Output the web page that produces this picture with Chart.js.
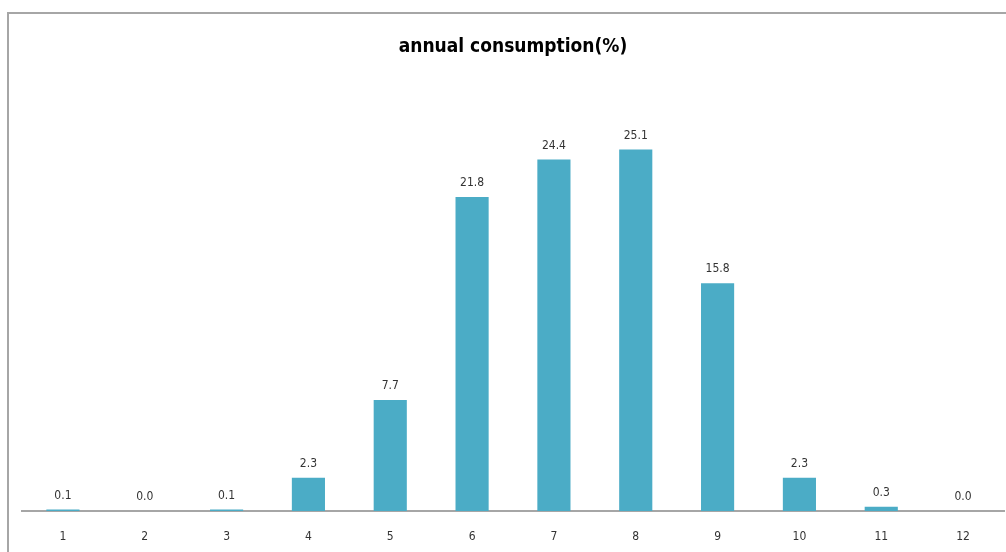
<!DOCTYPE html>
<html>
<head>
<meta charset="utf-8">
<script src="https://cdn.jsdelivr.net/npm/chart.js@4/dist/chart.umd.min.js"></script>
<style>
  html, body { margin: 0; padding: 0; background: #fff; }
  #wrap { width: 1006px; height: 552px; position: relative; }
</style>
</head>
<body>
<div id="wrap"><canvas id="c" width="1006" height="552"></canvas></div>
<script>
// Months of the year and share of annual consumption (%)
const months = ['1', '2', '3', '4', '5', '6', '7', '8', '9', '10', '11', '12'];
const share = [0.1, 0.0, 0.1, 2.3, 7.7, 21.8, 24.4, 25.1, 15.8, 2.3, 0.3, 0.0];
const chartTitle = 'annual consumption(%)';

const barColor = '#4bacc6';
const textFont = '"DejaVu Sans Condensed", "DejaVu Sans", sans-serif';

// Grey frame around the chart
const framePlugin = {
  id: 'frame',
  beforeDraw(chart) {
    const ctx = chart.ctx;
    ctx.save();
    ctx.fillStyle = '#fff';
    ctx.fillRect(0, 0, chart.width, chart.height);
    ctx.strokeStyle = '#a6a6a6';
    ctx.lineWidth = 2;
    ctx.strokeRect(8, 13, chart.width + 20, chart.height + 20);
    ctx.restore();
  }
};

// Value labels above each bar
const valueLabels = {
  id: 'valueLabels',
  afterDatasetsDraw(chart) {
    const ctx = chart.ctx;
    const meta = chart.getDatasetMeta(0);
    ctx.save();
    ctx.font = '12px ' + textFont;
    ctx.fillStyle = '#333';
    ctx.textAlign = 'center';
    ctx.textBaseline = 'bottom';
    meta.data.forEach((bar, i) => {
      ctx.fillText(share[i].toFixed(1), bar.x, bar.y - 8);
    });
    ctx.restore();
  }
};

new Chart(document.getElementById('c'), {
  type: 'bar',
  data: {
    labels: months,
    datasets: [{
      data: share,
      backgroundColor: barColor,
      borderWidth: 0,
      barPercentage: 0.5,
      categoryPercentage: 0.81
    }]
  },
  options: {
    responsive: false,
    animation: false,
    devicePixelRatio: 1,
    layout: { padding: { left: 22, right: 2, top: 14, bottom: 0 } },
    plugins: {
      legend: { display: false },
      tooltip: { enabled: false },
      title: {
        display: true,
        text: chartTitle,
        color: '#000',
        font: { family: textFont, size: 19, weight: 'bold' },
        padding: { top: 21.5, bottom: 20.5 }
      }
    },
    scales: {
      x: {
        grid: { display: false },
        border: { display: true, color: '#a6a6a6', width: 2 },
        ticks: { color: '#333', font: { family: textFont, size: 12 }, padding: 11 },
        afterFit(scale) { scale.height = 41; }
      },
      y: {
        display: false,
        min: 0,
        max: 30
      }
    }
  },
  plugins: [framePlugin, valueLabels]
});
</script>
</body>
</html>
